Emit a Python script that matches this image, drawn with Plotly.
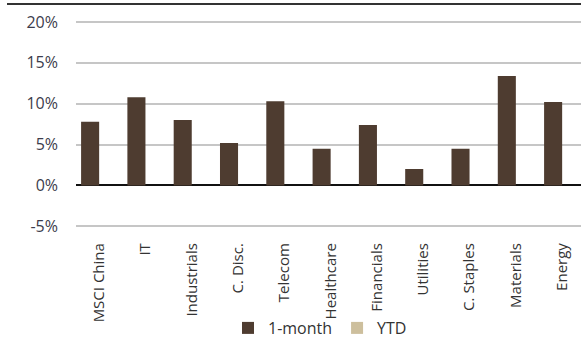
import plotly.graph_objects as go

# Sector returns, MSCI China universe (percent)
sectors = ["MSCI China", "IT", "Industrials", "C. Disc.", "Telecom", "Healthcare",
           "Financials", "Utilities", "C. Staples", "Materials", "Energy"]
one_month = [7.8, 10.8, 8.0, 5.2, 10.3, 4.5, 7.4, 2.0, 4.5, 13.4, 10.2]
ytd = [None] * len(sectors)

y_ticks = [-5, 0, 5, 10, 15, 20]
y_tick_labels = ["-5%", "0%", "5%", "10%", "15%", "20%"]

BROWN = "#4e3c30"
TAN = "#cdbf9d"
FONT = "Open Sans"

# figure geometry (pixels); 8.17 px per percentage point
W, H = 581, 338
LEFT = 76
PX_PER_PCT = 8.17
TOP = 16
Y_MAX = 20 + (22 - TOP) / PX_PER_PCT
Y_MIN = -5.6
PLOT_H = (Y_MAX - Y_MIN) * PX_PER_PCT
PLOT_W = W - LEFT
RULE_Y = 4          # dark rule along the top edge
RULE_X0 = 7

def fx(px):
    return px / W

def fy(py):
    return 1 - py / H

fig = go.Figure()
fig.add_trace(go.Bar(
    x=sectors, y=one_month, name="1-month",
    marker=dict(color=BROWN, line=dict(width=0)),
    width=0.39, offset=-0.39,
))
fig.add_trace(go.Bar(
    x=sectors, y=ytd, name="YTD",
    marker=dict(color=TAN, line=dict(width=0)),
    width=0.39, offset=0.0,
))

fig.update_layout(
    width=W, height=H,
    margin=dict(l=0, r=0, t=0, b=0, pad=0, autoexpand=False),
    paper_bgcolor="white", plot_bgcolor="white",
    font=dict(family=FONT, size=15, color="#333333"),
    barmode="overlay",
    showlegend=True,
    legend=dict(
        orientation="h", x=fx(228), xanchor="left",
        y=fy(311), yanchor="top",
        font=dict(size=16, color="#333333"), itemwidth=30,
        traceorder="normal", bgcolor="rgba(0,0,0,0)",
    ),
    xaxis=dict(
        domain=[fx(LEFT), 1.0],
        type="category", range=[-0.5, -0.5 + PLOT_W / 46.3],
        tickangle=-90, showgrid=False, zeroline=False, showline=False,
        ticks="", ticklabelstandoff=8, automargin=False,
        tickfont=dict(size=15, color="#333333"),
    ),
    yaxis=dict(
        domain=[fy(TOP + PLOT_H), fy(TOP)],
        range=[Y_MIN, Y_MAX], tickvals=y_ticks, ticktext=y_tick_labels,
        showgrid=True, gridcolor="#c6c6c6", gridwidth=1.5,
        zeroline=True, zerolinecolor="#111111", zerolinewidth=1.5,
        showline=False, ticks="", ticklabelstandoff=17, automargin=False,
        tickfont=dict(size=16, color="#3c3c4c"),
    ),
)

# Top rule: a thin filled bar pinned to the top edge of the page
fig.add_annotation(
    xref="paper", yref="paper", x=fx(RULE_X0), y=fy(RULE_Y),
    xanchor="left", yanchor="middle", showarrow=False,
    text=" ", font=dict(size=1, color="#333333"),
    width=W - RULE_X0, height=2, borderpad=0, borderwidth=0,
    bgcolor="#333333",
)

fig.write_html("out.html")
